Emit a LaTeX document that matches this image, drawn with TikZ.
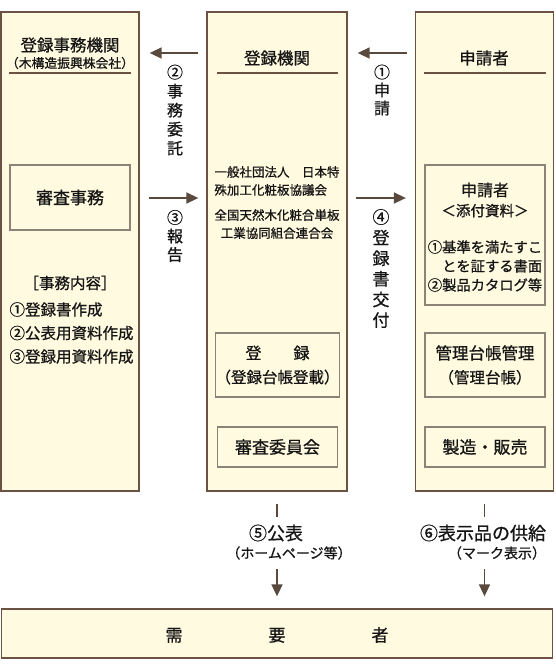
\documentclass[tikz,border=0pt]{standalone}
\usepackage{fontspec}
\setmainfont{Noto Sans CJK JP}[FakeBold=0.8]
\usetikzlibrary{arrows.meta}
\definecolor{colfill}{HTML}{FFFAE0}
\definecolor{colline}{HTML}{6B5242}
\definecolor{boxline}{HTML}{8E8276}
\definecolor{arrcol}{HTML}{5A4A3E}
\definecolor{txt}{HTML}{151515}

\begin{document}
\begin{tikzpicture}[x=1pt,y=-1pt,text=txt,
  col/.style={draw=colline,line width=1.3pt,fill=colfill,inner sep=0pt,minimum width=#1},
  inbox/.style={draw=boxline,line width=1.2pt,inner sep=0pt,minimum width=120pt,align=center},
  arr/.style={draw=arrcol,line width=1.6pt,-{Triangle[length=12pt,width=11pt]}},
  stem/.style={draw=arrcol,line width=1.6pt},
  uline/.style={draw=colline,line width=1.6pt},
  f/.style={font=\fontsize{#1}{#1}\selectfont}]
  \useasboundingbox (0,0) rectangle (555,670);
  % three columns and the users box
  \node[col=138pt,minimum height=479pt] (office) at (70,251.5) {};
  \node[col=140pt,minimum height=479pt] (reg) at (277,251.5) {};
  \node[col=138pt,minimum height=479pt] (app) at (484.5,251.5) {};
  \node[col=551pt,minimum height=49pt] (user) at (277,633.5) {};
  % headers
  \node[f=16.5] (officehd) at (70,45) {登録事務機関};
  \node[f=12.8] (officesub) at (70,63) {（木構造振興株会社）};
  \node[f=16.5] (reghd) at (277,58) {登録機関};
  \node[f=16.5] (apphd) at (484,58) {申請者};
  \draw[uline] (9,73) -- (131,73);
  \draw[uline] (217,73) -- (338,73);
  \draw[uline] (424,73) -- (546,73);
  % left column
  \node[inbox,minimum height=65pt,f=17] (chk) at (70,197.5) {審査事務};
  \node[f=15.5] (tasks) at (70,283) {［事務内容］};
  \node[align=left,anchor=west,font=\fontsize{15.5}{23.5}\selectfont] (tasklist) at (6,333)
    {①登録書作成\\②公表用資料作成\\③登録用資料作成};
  % middle column
  \node[align=left,font=\fontsize{12.5}{18}\selectfont] (org1) at (277,181)
    {一般社団法人　日本特\\殊加工化粧板協議会};
  \node[align=center,font=\fontsize{12.5}{18}\selectfont] (org2) at (277,224)
    {全国天然木化粧合単板\\工業協同組合連合会};
  \node[inbox,minimum height=64pt,font=\fontsize{16}{24}\selectfont] (rec) at (277.5,365)
    {登　　録\\{\fontsize{15.5}{17}\selectfont （登録台帳登載）}};
  \node[inbox,minimum height=40pt,f=17] (cmt) at (277.5,447) {審査委員会};
  % right column
  \node[inbox,minimum height=140pt] (att) at (485,235) {};
  \node[align=center,font=\fontsize{16}{20}\selectfont] (atthd) at (485,200)
    {申請者\\{\fontsize{14.5}{17}\selectfont ＜添付資料＞}};
  \node[align=left,font=\fontsize{14.3}{19}\selectfont] (attlist) at (485,266)
    {①基準を満たすこ\\\phantom{①}とを証する書面\\②製品カタログ等};
  \node[inbox,minimum height=64pt,font=\fontsize{16.5}{24}\selectfont] (mng) at (485,365)
    {管理台帳管理\\{\fontsize{15.5}{17}\selectfont （管理台帳）}};
  \node[inbox,minimum height=40pt,f=17] (mfg) at (485,447) {製造・販売};
  % arrows between columns
  \draw[arr,shorten <=8pt,shorten >=10pt] (reg.west |- 0,53) -- (office.east |- 0,53);
  \draw[arr,shorten <=8pt,shorten >=10pt] (app.west |- 0,53) -- (reg.east |- 0,53);
  \draw[arr,shorten <=9pt,shorten >=8pt] (office.east |- 0,198) -- (reg.west |- 0,198);
  \draw[arr,shorten <=8pt,shorten >=9pt] (reg.east |- 0,198) -- (app.west |- 0,198);
  \node[align=center,font=\fontsize{16}{19}\selectfont] (l2) at (175,110) {②\\事\\務\\委\\託};
  \node[align=center,font=\fontsize{16}{18}\selectfont] (l1) at (382,90) {①\\申\\請};
  \node[align=center,font=\fontsize{16}{18.5}\selectfont] (l3) at (175,236) {③\\報\\告};
  \node[align=center,font=\fontsize{17}{20.6}\selectfont] (l4) at (381,268.5) {④\\登\\録\\書\\交\\付};
  % to the users
  \node[f=18] (pub) at (276,533) {⑤公表};
  \node[f=14] (pubnote) at (289,553) {（ホームページ等）};
  \node[f=18] (sup) at (483,533) {⑥表示品の供給};
  \node[f=14] (supnote) at (497,553) {（マーク表示）};
  \draw[stem,shorten <=12pt] (reg.south) -- ++(0,25);
  \draw[stem,shorten <=12pt] (app.south) -- ++(0,25);
  \draw[arr,shorten <=6pt,shorten >=12pt] (pubnote.south -| reg.south) -- (user.north -| reg.south);
  \draw[arr,shorten <=6pt,shorten >=12pt] (supnote.south -| app.south) -- (user.north -| app.south);
  \node[f=17] (users) at (277,635) {需\hspace{86pt}要\hspace{86pt}者};
\end{tikzpicture}
\end{document}
